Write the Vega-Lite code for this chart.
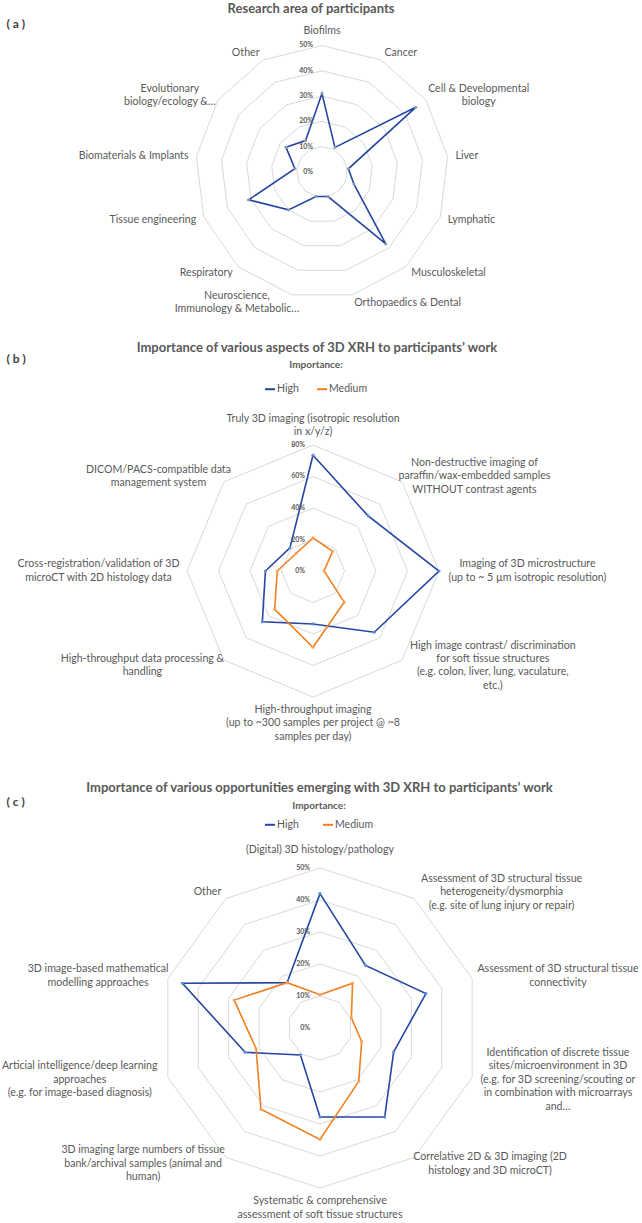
{
  "$schema": "https://vega.github.io/schema/vega-lite/v6.json",
  "padding": {"top": 2, "left": 0, "right": 0, "bottom": 0},
  "background": "white",
  "spacing": 31,
  "bounds": "flush",
  "resolve": {"scale": {"color": "independent", "fill": "independent"}, "legend": {"color": "independent"}},
  "config": {
    "font": "Lato",
    "view": {"stroke": null},
    "title": {"font": "Lato", "fontSize": 13, "fontWeight": "bold", "color": "#595959", "anchor": "middle", "offset": 2},
    "legend": {"padding": 0}
  },
  "datasets": {
    "rings_a": [
      {"level": 10, "k": [0,1,2,3,4,5,6,7,8,9,10,11,12]},
      {"level": 20, "k": [0,1,2,3,4,5,6,7,8,9,10,11,12]},
      {"level": 30, "k": [0,1,2,3,4,5,6,7,8,9,10,11,12]},
      {"level": 40, "k": [0,1,2,3,4,5,6,7,8,9,10,11,12]},
      {"level": 50, "k": [0,1,2,3,4,5,6,7,8,9,10,11,12]}
    ],
    "ticks_a": [{"level": 0}, {"level": 10}, {"level": 20}, {"level": 30}, {"level": 40}, {"level": 50}],
    "cats_a": [
      {"k": 0, "label": "Biofilms"},
      {"k": 1, "label": "Cancer"},
      {"k": 2, "label": "Cell & Developmental\nbiology"},
      {"k": 3, "label": "Liver"},
      {"k": 4, "label": "Lymphatic"},
      {"k": 5, "label": "Musculoskeletal"},
      {"k": 6, "label": "Orthopaedics & Dental"},
      {"k": 7, "label": "Neuroscience,\nImmunology & Metabolic…"},
      {"k": 8, "label": "Respiratory"},
      {"k": 9, "label": "Tissue engineering"},
      {"k": 10, "label": "Biomaterials & Implants"},
      {"k": 11, "label": "Evolutionary\nbiology/ecology &…"},
      {"k": 12, "label": "Other"}
    ],
    "vals_a": [
      {"k": 0, "series": "High", "value": 31},
      {"k": 1, "series": "High", "value": 11},
      {"k": 2, "series": "High", "value": 45},
      {"k": 3, "series": "High", "value": 10.5},
      {"k": 4, "series": "High", "value": 13.5},
      {"k": 5, "series": "High", "value": 38},
      {"k": 6, "series": "High", "value": 10},
      {"k": 7, "series": "High", "value": 10},
      {"k": 8, "series": "High", "value": 20},
      {"k": 9, "series": "High", "value": 31},
      {"k": 10, "series": "High", "value": 10.8},
      {"k": 11, "series": "High", "value": 17.3},
      {"k": 12, "series": "High", "value": 14}
    ],
    "rings_b": [
      {"level": 20, "k": [0,1,2,3,4,5,6,7]},
      {"level": 40, "k": [0,1,2,3,4,5,6,7]},
      {"level": 60, "k": [0,1,2,3,4,5,6,7]},
      {"level": 80, "k": [0,1,2,3,4,5,6,7]}
    ],
    "ticks_b": [{"level": 0}, {"level": 20}, {"level": 40}, {"level": 60}, {"level": 80}],
    "cats_b": [
      {"k": 0, "label": "Truly 3D imaging (isotropic resolution\nin x/y/z)"},
      {"k": 1, "label": "Non-destructive imaging of\nparaffin/wax-embedded samples\nWITHOUT contrast agents"},
      {"k": 2, "label": "Imaging of 3D microstructure\n(up to ~ 5 µm isotropic resolution)"},
      {"k": 3, "label": "High image contrast/ discrimination\nfor soft tissue structures\n(e.g. colon, liver, lung, vaculature,\netc.)"},
      {"k": 4, "label": "High-throughput imaging\n(up to ~300 samples per project @ ~8\nsamples per day)"},
      {"k": 5, "label": "High-throughput data processing &\nhandling"},
      {"k": 6, "label": "Cross-registration/validation of 3D\nmicroCT with 2D histology data"},
      {"k": 7, "label": "DICOM/PACS-compatible data\nmanagement system"}
    ],
    "vals_b": [
      {"k": 0, "series": "High", "value": 73.5},
      {"k": 1, "series": "High", "value": 49.5},
      {"k": 2, "series": "High", "value": 80},
      {"k": 3, "series": "High", "value": 55},
      {"k": 4, "series": "High", "value": 33.6},
      {"k": 5, "series": "High", "value": 45.5},
      {"k": 6, "series": "High", "value": 30.2},
      {"k": 7, "series": "High", "value": 20.7},
      {"k": 0, "series": "Medium", "value": 21},
      {"k": 1, "series": "Medium", "value": 17.6},
      {"k": 2, "series": "Medium", "value": 7},
      {"k": 3, "series": "Medium", "value": 28},
      {"k": 4, "series": "Medium", "value": 48.4},
      {"k": 5, "series": "Medium", "value": 34.4},
      {"k": 6, "series": "Medium", "value": 22.7},
      {"k": 7, "series": "Medium", "value": 15.5}
    ],
    "rings_c": [
      {"level": 10, "k": [0,1,2,3,4,5,6,7,8,9]},
      {"level": 20, "k": [0,1,2,3,4,5,6,7,8,9]},
      {"level": 30, "k": [0,1,2,3,4,5,6,7,8,9]},
      {"level": 40, "k": [0,1,2,3,4,5,6,7,8,9]},
      {"level": 50, "k": [0,1,2,3,4,5,6,7,8,9]}
    ],
    "ticks_c": [{"level": 0}, {"level": 10}, {"level": 20}, {"level": 30}, {"level": 40}, {"level": 50}],
    "cats_c": [
      {"k": 0, "label": "(Digital) 3D histology/pathology"},
      {"k": 1, "label": "Assessment of 3D structural tissue\nheterogeneity/dysmorphia\n(e.g. site of lung injury or repair)"},
      {"k": 2, "label": "Assessment of 3D structural tissue\nconnectivity"},
      {"k": 3, "label": "Identification of discrete tissue\nsites/microenvironment in 3D\n(e.g. for 3D screening/scouting or\nin combination with microarrays\nand…"},
      {"k": 4, "label": "Correlative 2D & 3D imaging (2D\nhistology and 3D microCT)"},
      {"k": 5, "label": "Systematic & comprehensive\nassessment of soft tissue structures"},
      {"k": 6, "label": "3D imaging large numbers of tissue\nbank/archival samples (animal and\nhuman)"},
      {"k": 7, "label": "Articial intelligence/deep learning\napproaches\n(e.g. for image-based diagnosis)"},
      {"k": 8, "label": "3D image-based mathematical\nmodelling approaches"},
      {"k": 9, "label": "Other"}
    ],
    "vals_c": [
      {"k": 0, "series": "High", "value": 42},
      {"k": 1, "series": "High", "value": 24.2},
      {"k": 2, "series": "High", "value": 34.8},
      {"k": 3, "series": "High", "value": 24.2},
      {"k": 4, "series": "High", "value": 34.4},
      {"k": 5, "series": "High", "value": 27.8},
      {"k": 6, "series": "High", "value": 10.4},
      {"k": 7, "series": "High", "value": 24.6},
      {"k": 8, "series": "High", "value": 45.2},
      {"k": 9, "series": "High", "value": 17.5},
      {"k": 0, "series": "Medium", "value": 10.4},
      {"k": 1, "series": "Medium", "value": 17.3},
      {"k": 2, "series": "Medium", "value": 10.3},
      {"k": 3, "series": "Medium", "value": 13.7},
      {"k": 4, "series": "Medium", "value": 20.6},
      {"k": 5, "series": "Medium", "value": 34.8},
      {"k": 6, "series": "Medium", "value": 31.4},
      {"k": 7, "series": "Medium", "value": 21},
      {"k": 8, "series": "Medium", "value": 28.2},
      {"k": 9, "series": "Medium", "value": 17.5}
    ]
  },
  "vconcat": [
    {
      "width": 642,
      "height": 297,
      "title": {"text": "Research area of participants", "dx": -10},
      "encoding": {
        "x": {"field": "px", "type": "quantitative", "scale": {"domain": [-127.27, 126.48], "nice": false, "zero": false}, "axis": null},
        "y": {"field": "py", "type": "quantitative", "scale": {"domain": [-59.29, 58.10], "nice": false, "zero": false},
          "axis": {"title": "( a )", "domain": false, "ticks": false, "labels": false, "grid": false, "minExtent": 0, "maxExtent": 0, "titleAngle": 0, "titleAlign": "left", "titleBaseline": "middle", "titleX": 6, "titleY": -1.5, "titleFontSize": 12, "titleFontWeight": "bold", "titleColor": "#404040", "titleFont": "Lato"}}
      },
      "layer": [
        {
          "data": {"name": "rings_a"},
          "transform": [
            {"flatten": ["k"]},
            {"calculate": "2*PI*datum.k/13", "as": "t"},
            {"calculate": "datum.level*sin(datum.t)", "as": "px"},
            {"calculate": "datum.level*cos(datum.t)", "as": "py"}
          ],
          "mark": {"type": "line", "interpolate": "linear-closed", "stroke": "#D9D9D9", "strokeWidth": 1},
          "encoding": {"detail": {"field": "level", "type": "nominal"}, "order": {"field": "k", "type": "quantitative"}}
        },
        {
          "data": {"name": "vals_a"},
          "transform": [
            {"calculate": "2*PI*datum.k/13", "as": "t"},
            {"calculate": "datum.value*sin(datum.t)", "as": "px"},
            {"calculate": "datum.value*cos(datum.t)", "as": "py"}
          ],
          "mark": {"type": "line", "interpolate": "linear-closed", "stroke": "#2446A3", "strokeWidth": 1.6},
          "encoding": {"order": {"field": "k", "type": "quantitative"}}
        },
        {
          "data": {"name": "vals_a"},
          "transform": [
            {"calculate": "2*PI*datum.k/13", "as": "t"},
            {"calculate": "datum.value*sin(datum.t)", "as": "px"},
            {"calculate": "datum.value*cos(datum.t)", "as": "py"}
          ],
          "mark": {"type": "point", "filled": true, "size": 10, "color": "#8E9BB3", "opacity": 1}
        },
        {
          "data": {"name": "ticks_a"},
          "transform": [
            {"calculate": "-3.56", "as": "px"},
            {"calculate": "datum.level", "as": "py"},
            {"calculate": "datum.level + '%'", "as": "lab"}
          ],
          "mark": {"type": "text", "align": "right", "baseline": "middle", "fontSize": 7, "fontWeight": "bold", "color": "#595959"},
          "encoding": {"text": {"field": "lab", "type": "nominal"}}
        },
        {
          "data": {"name": "cats_a"},
          "transform": [
            {"calculate": "2*PI*datum.k/13", "as": "t"},
            {"calculate": "split(datum.label, '\\n')", "as": "s"},
            {"calculate": "length(datum.s)", "as": "n"},
            {"calculate": "53.16*sin(datum.t)", "as": "px"},
            {"calculate": "53.16*cos(datum.t)", "as": "py"},
            {"filter": "datum.n == 1 && sin(datum.t) > 0.05"}
          ],
          "mark": {"type": "text", "align": "left", "baseline": "middle", "fontSize": 10.6, "color": "#595959"},
          "encoding": {"text": {"field": "label", "type": "nominal"}}
        },
        {
          "data": {"name": "cats_a"},
          "transform": [
            {"calculate": "2*PI*datum.k/13", "as": "t"},
            {"calculate": "split(datum.label, '\\n')", "as": "s"},
            {"calculate": "length(datum.s)", "as": "n"},
            {"calculate": "53.16*sin(datum.t)", "as": "px"},
            {"calculate": "53.16*cos(datum.t)", "as": "py"},
            {"filter": "datum.n == 1 && sin(datum.t) < -0.05"}
          ],
          "mark": {"type": "text", "align": "right", "baseline": "middle", "fontSize": 10.6, "color": "#595959"},
          "encoding": {"text": {"field": "label", "type": "nominal"}}
        },
        {
          "data": {"name": "cats_a"},
          "transform": [
            {"calculate": "2*PI*datum.k/13", "as": "t"},
            {"calculate": "split(datum.label, '\\n')", "as": "s"},
            {"calculate": "length(datum.s)", "as": "n"},
            {"calculate": "max(length(datum.s[0]), datum.n > 1 ? length(datum.s[1]) : 0, datum.n > 2 ? length(datum.s[2]) : 0, datum.n > 3 ? length(datum.s[3]) : 0, datum.n > 4 ? length(datum.s[4]) : 0)", "as": "m"},
            {"calculate": "53.16*sin(datum.t) + (sin(datum.t) > 0 ? 1 : -1)*datum.m*0.909", "as": "px"},
            {"calculate": "53.16*cos(datum.t) + (datum.n-1)*2.628", "as": "py"},
            {"filter": "datum.n > 1 && abs(sin(datum.t)) > 0.05"}
          ],
          "mark": {"type": "text", "align": "center", "baseline": "middle", "fontSize": 10.6, "lineHeight": 13.3, "lineBreak": "\n", "color": "#595959"},
          "encoding": {"text": {"field": "label", "type": "nominal"}}
        },
        {
          "data": {"name": "cats_a"},
          "transform": [
            {"calculate": "2*PI*datum.k/13", "as": "t"},
            {"calculate": "length(split(datum.label, '\\n'))", "as": "n"},
            {"calculate": "53.6*sin(datum.t)", "as": "px"},
            {"calculate": "53.6*cos(datum.t) + (datum.n-1)*5.257", "as": "py"},
            {"filter": "abs(sin(datum.t)) <= 0.05 && cos(datum.t) > 0"}
          ],
          "mark": {"type": "text", "align": "center", "baseline": "bottom", "fontSize": 10.6, "lineHeight": 13.3, "lineBreak": "\n", "color": "#595959"},
          "encoding": {"text": {"field": "label", "type": "nominal"}}
        }
      ]
    },
    {
      "width": 642,
      "height": 412,
      "title": {"text": "Importance of various aspects of 3D XRH to participants’ work", "dx": -4, "dy": 4.5},
      "encoding": {
        "x": {"field": "px", "type": "quantitative", "scale": {"domain": [-198.73, 208.89], "nice": false, "zero": false}, "axis": null},
        "y": {"field": "py", "type": "quantitative", "scale": {"domain": [-123.17, 138.41], "nice": false, "zero": false},
          "axis": {"title": "( b )", "domain": false, "ticks": false, "labels": false, "grid": false, "minExtent": 0, "maxExtent": 0, "titleAngle": 0, "titleAlign": "left", "titleBaseline": "middle", "titleX": 6, "titleY": 5, "titleFontSize": 12, "titleFontWeight": "bold", "titleColor": "#404040", "titleFont": "Lato"}}
      },
      "layer": [
        {
          "data": {"name": "rings_b"},
          "transform": [
            {"flatten": ["k"]},
            {"calculate": "2*PI*datum.k/8", "as": "t"},
            {"calculate": "datum.level*sin(datum.t)", "as": "px"},
            {"calculate": "datum.level*cos(datum.t)", "as": "py"}
          ],
          "mark": {"type": "line", "interpolate": "linear-closed", "stroke": "#D9D9D9", "strokeWidth": 1},
          "encoding": {"detail": {"field": "level", "type": "nominal"}, "order": {"field": "k", "type": "quantitative"}}
        },
        {
          "data": {"name": "vals_b"},
          "transform": [
            {"calculate": "2*PI*datum.k/8", "as": "t"},
            {"calculate": "datum.value*sin(datum.t)", "as": "px"},
            {"calculate": "datum.value*cos(datum.t)", "as": "py"}
          ],
          "mark": {"type": "line", "interpolate": "linear-closed", "strokeWidth": 1.6},
          "encoding": {
            "order": {"field": "k", "type": "quantitative"},
            "color": {"field": "series", "type": "nominal", "scale": {"domain": ["High", "Medium"], "range": ["#2446A3", "#F07F1F"]},
              "legend": {"title": "Importance:", "orient": "none", "legendX": 264, "legendY": 7, "direction": "horizontal", "gridAlign": "none", "titleAnchor": "middle", "titleFontSize": 10, "titleFontWeight": "bold", "titleColor": "#595959", "titlePadding": 13.2, "labelFontSize": 10.5, "labelColor": "#595959", "labelOffset": 1, "columnPadding": 14, "symbolType": "stroke", "symbolSize": 100, "symbolStrokeWidth": 2}}
          }
        },
        {
          "data": {"name": "vals_b"},
          "transform": [
            {"calculate": "2*PI*datum.k/8", "as": "t"},
            {"calculate": "datum.value*sin(datum.t)", "as": "px"},
            {"calculate": "datum.value*cos(datum.t)", "as": "py"}
          ],
          "mark": {"type": "point", "filled": true, "size": 10, "opacity": 1, "strokeWidth": 0},
          "encoding": {"fill": {"field": "series", "type": "nominal", "scale": {"domain": ["High", "Medium"], "range": ["#5B8FD6", "#F5A25C"]}, "legend": null}}
        },
        {
          "data": {"name": "ticks_b"},
          "transform": [
            {"calculate": "-5.08", "as": "px"},
            {"calculate": "datum.level", "as": "py"},
            {"calculate": "datum.level + '%'", "as": "lab"}
          ],
          "mark": {"type": "text", "align": "right", "baseline": "middle", "fontSize": 7, "fontWeight": "bold", "color": "#595959"},
          "encoding": {"text": {"field": "lab", "type": "nominal"}}
        },
        {
          "data": {"name": "cats_b"},
          "transform": [
            {"calculate": "2*PI*datum.k/8", "as": "t"},
            {"calculate": "split(datum.label, '\\n')", "as": "s"},
            {"calculate": "length(datum.s)", "as": "n"},
            {"calculate": "max(length(datum.s[0]), datum.n > 1 ? length(datum.s[1]) : 0, datum.n > 2 ? length(datum.s[2]) : 0, datum.n > 3 ? length(datum.s[3]) : 0, datum.n > 4 ? length(datum.s[4]) : 0)", "as": "m"},
            {"calculate": "85.08*sin(datum.t) + (sin(datum.t) > 0 ? 1 : -1)*datum.m*1.46", "as": "px"},
            {"calculate": "85.08*cos(datum.t) + (datum.n-1)*4.254", "as": "py"},
            {"filter": "abs(sin(datum.t)) > 0.05"}
          ],
          "mark": {"type": "text", "align": "center", "baseline": "middle", "fontSize": 10.6, "lineHeight": 13.4, "lineBreak": "\n", "color": "#595959"},
          "encoding": {"text": {"field": "label", "type": "nominal"}}
        },
        {
          "data": {"name": "cats_b"},
          "transform": [
            {"calculate": "2*PI*datum.k/8", "as": "t"},
            {"calculate": "length(split(datum.label, '\\n'))", "as": "n"},
            {"calculate": "85.08*sin(datum.t)", "as": "px"},
            {"calculate": "85.08*cos(datum.t) + (datum.n-1)*8.508", "as": "py"},
            {"filter": "abs(sin(datum.t)) <= 0.05 && cos(datum.t) > 0"}
          ],
          "mark": {"type": "text", "align": "center", "baseline": "bottom", "fontSize": 10.6, "lineHeight": 13.4, "lineBreak": "\n", "color": "#595959"},
          "encoding": {"text": {"field": "label", "type": "nominal"}}
        },
        {
          "data": {"name": "cats_b"},
          "transform": [
            {"calculate": "2*PI*datum.k/8", "as": "t"},
            {"calculate": "85.08*sin(datum.t)", "as": "px"},
            {"calculate": "85.08*cos(datum.t)", "as": "py"},
            {"filter": "abs(sin(datum.t)) <= 0.05 && cos(datum.t) < 0"}
          ],
          "mark": {"type": "text", "align": "center", "baseline": "top", "fontSize": 10.6, "lineHeight": 13.4, "lineBreak": "\n", "color": "#595959"},
          "encoding": {"text": {"field": "label", "type": "nominal"}}
        }
      ]
    },
    {
      "width": 642,
      "height": 428,
      "title": {"text": "Importance of various opportunities emerging with 3D XRH to participants’ work", "dx": -1.5, "dy": 2},
      "encoding": {
        "x": {"field": "px", "type": "quantitative", "scale": {"domain": [-100, 100.625], "nice": false, "zero": false}, "axis": null},
        "y": {"field": "py", "type": "quantitative", "scale": {"domain": [-61.25, 72.5], "nice": false, "zero": false},
          "axis": {"title": "( c )", "domain": false, "ticks": false, "labels": false, "grid": false, "minExtent": 0, "maxExtent": 0, "titleAngle": 0, "titleAlign": "left", "titleBaseline": "middle", "titleX": 6, "titleY": 5.3, "titleFontSize": 12, "titleFontWeight": "bold", "titleColor": "#404040", "titleFont": "Lato"}}
      },
      "layer": [
        {
          "data": {"name": "rings_c"},
          "transform": [
            {"flatten": ["k"]},
            {"calculate": "2*PI*datum.k/10", "as": "t"},
            {"calculate": "datum.level*sin(datum.t)", "as": "px"},
            {"calculate": "datum.level*cos(datum.t)", "as": "py"}
          ],
          "mark": {"type": "line", "interpolate": "linear-closed", "stroke": "#D9D9D9", "strokeWidth": 1},
          "encoding": {"detail": {"field": "level", "type": "nominal"}, "order": {"field": "k", "type": "quantitative"}}
        },
        {
          "data": {"name": "vals_c"},
          "transform": [
            {"calculate": "2*PI*datum.k/10", "as": "t"},
            {"calculate": "datum.value*sin(datum.t)", "as": "px"},
            {"calculate": "datum.value*cos(datum.t)", "as": "py"}
          ],
          "mark": {"type": "line", "interpolate": "linear-closed", "strokeWidth": 1.6},
          "encoding": {
            "order": {"field": "k", "type": "quantitative"},
            "color": {"field": "series", "type": "nominal", "scale": {"domain": ["High", "Medium"], "range": ["#2446A3", "#F07F1F"]},
              "legend": {"title": "Importance:", "orient": "none", "legendX": 264, "legendY": 5.3, "direction": "horizontal", "gridAlign": "none", "titleAnchor": "middle", "titleFontSize": 10, "titleFontWeight": "bold", "titleColor": "#595959", "titlePadding": 7.5, "labelFontSize": 10.5, "labelColor": "#595959", "labelOffset": 1, "columnPadding": 20, "symbolType": "stroke", "symbolSize": 100, "symbolStrokeWidth": 2}}
          }
        },
        {
          "data": {"name": "vals_c"},
          "transform": [
            {"calculate": "2*PI*datum.k/10", "as": "t"},
            {"calculate": "datum.value*sin(datum.t)", "as": "px"},
            {"calculate": "datum.value*cos(datum.t)", "as": "py"}
          ],
          "mark": {"type": "point", "filled": true, "size": 10, "opacity": 1, "strokeWidth": 0},
          "encoding": {"fill": {"field": "series", "type": "nominal", "scale": {"domain": ["High", "Medium"], "range": ["#5B8FD6", "#F5A25C"]}, "legend": null}}
        },
        {
          "data": {"name": "ticks_c"},
          "transform": [
            {"calculate": "-3.125", "as": "px"},
            {"calculate": "datum.level", "as": "py"},
            {"calculate": "datum.level + '%'", "as": "lab"}
          ],
          "mark": {"type": "text", "align": "right", "baseline": "middle", "fontSize": 7, "fontWeight": "bold", "color": "#595959"},
          "encoding": {"text": {"field": "lab", "type": "nominal"}}
        },
        {
          "data": {"name": "cats_c"},
          "transform": [
            {"calculate": "2*PI*datum.k/10", "as": "t"},
            {"calculate": "split(datum.label, '\\n')", "as": "s"},
            {"calculate": "length(datum.s)", "as": "n"},
            {"calculate": "52.5*sin(datum.t)", "as": "px"},
            {"calculate": "52.5*cos(datum.t)", "as": "py"},
            {"filter": "datum.n == 1 && sin(datum.t) < -0.05"}
          ],
          "mark": {"type": "text", "align": "right", "baseline": "middle", "fontSize": 10.6, "color": "#595959"},
          "encoding": {"text": {"field": "label", "type": "nominal"}}
        },
        {
          "data": {"name": "cats_c"},
          "transform": [
            {"calculate": "2*PI*datum.k/10", "as": "t"},
            {"calculate": "split(datum.label, '\\n')", "as": "s"},
            {"calculate": "length(datum.s)", "as": "n"},
            {"calculate": "max(length(datum.s[0]), datum.n > 1 ? length(datum.s[1]) : 0, datum.n > 2 ? length(datum.s[2]) : 0, datum.n > 3 ? length(datum.s[3]) : 0, datum.n > 4 ? length(datum.s[4]) : 0)", "as": "m"},
            {"calculate": "52.5*sin(datum.t) + (sin(datum.t) > 0 ? 1 : -1)*datum.m*0.71875", "as": "px"},
            {"calculate": "52.5*cos(datum.t) + (datum.n-1)*2.109", "as": "py"},
            {"filter": "datum.n > 1 && abs(sin(datum.t)) > 0.05"}
          ],
          "mark": {"type": "text", "align": "center", "baseline": "middle", "fontSize": 10.6, "lineHeight": 13.5, "lineBreak": "\n", "color": "#595959"},
          "encoding": {"text": {"field": "label", "type": "nominal"}}
        },
        {
          "data": {"name": "cats_c"},
          "transform": [
            {"calculate": "2*PI*datum.k/10", "as": "t"},
            {"calculate": "length(split(datum.label, '\\n'))", "as": "n"},
            {"calculate": "54.2*sin(datum.t)", "as": "px"},
            {"calculate": "54.2*cos(datum.t) + (datum.n-1)*4.219", "as": "py"},
            {"filter": "abs(sin(datum.t)) <= 0.05 && cos(datum.t) > 0"}
          ],
          "mark": {"type": "text", "align": "center", "baseline": "bottom", "fontSize": 10.6, "lineHeight": 13.5, "lineBreak": "\n", "color": "#595959"},
          "encoding": {"text": {"field": "label", "type": "nominal"}}
        },
        {
          "data": {"name": "cats_c"},
          "transform": [
            {"calculate": "2*PI*datum.k/10", "as": "t"},
            {"calculate": "52.5*sin(datum.t)", "as": "px"},
            {"calculate": "52.5*cos(datum.t)", "as": "py"},
            {"filter": "abs(sin(datum.t)) <= 0.05 && cos(datum.t) < 0"}
          ],
          "mark": {"type": "text", "align": "center", "baseline": "top", "fontSize": 10.6, "lineHeight": 13.5, "lineBreak": "\n", "color": "#595959"},
          "encoding": {"text": {"field": "label", "type": "nominal"}}
        }
      ]
    }
  ]
}
